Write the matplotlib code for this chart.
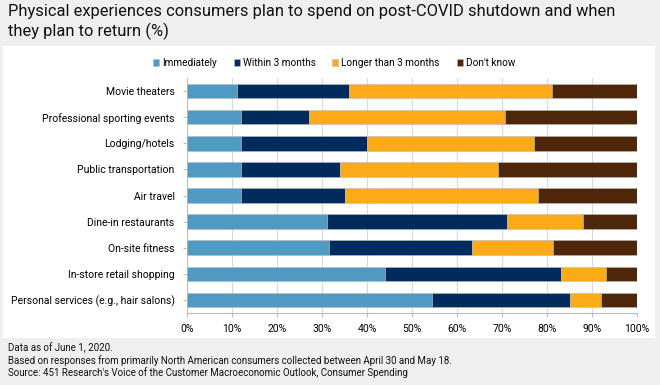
import matplotlib
matplotlib.use('Agg')
from matplotlib import pyplot as plt
from matplotlib.patches import Rectangle

plt.rcParams['font.family'] = ['Roboto', 'DejaVu Sans']

categories = ['Movie theaters', 'Professional sporting events', 'Lodging/hotels',
              'Public transportation', 'Air travel', 'Dine-in restaurants',
              'On-site fitness', 'In-store retail shopping',
              'Personal services (e.g., hair salons)']
immediately = [11, 12, 12, 12, 12, 31, 31.6, 44, 54.4]
within_3m = [25, 15, 28, 22, 23, 40, 31.7, 39, 30.7]
longer_3m = [45, 43.6, 37, 35, 43, 17, 18, 10, 7]
dont_know = [19, 29.4, 23, 31, 22, 12, 18.7, 7, 7.9]

series = [('Immediately', immediately, '#4F9AC3'),
          ('Within 3 months', within_3m, '#002B5C'),
          ('Longer than 3 months', longer_3m, '#FDAA19'),
          ("Don't know", dont_know, '#4E270B')]

fig = plt.figure(figsize=(6.6, 3.85), dpi=100)
fig.patch.set_facecolor('#EFEFEF')
fig.patches.append(Rectangle((3 / 660, 1 - 338 / 385), 652 / 660, 292 / 385,
                             transform=fig.transFigure, facecolor='white',
                             edgecolor='none', zorder=-5))

fig.text(8 / 660, 1 - 4 / 385,
         'Physical experiences consumers plan to spend on post-COVID shutdown and when\nthey plan to return (%)',
         fontsize=11.9, va='top', ha='left', linespacing=1.3, color='#111111')

ax = fig.add_axes([187 / 660, 1 - 313 / 385, 450 / 660, 235 / 385])
ax.set_facecolor('white')

left = [0] * len(categories)
for name, vals, color in series:
    ax.barh(categories, vals, left=left, height=0.56, color=color, label=name,
            edgecolor='#BBBBBB', linewidth=0.4, zorder=3)
    left = [a + b for a, b in zip(left, vals)]

ax.set_xlim(0, 100)
ax.set_ylim(8.5, -0.5)
ax.set_xticks(range(0, 101, 10))
ax.set_xticklabels([f'{t}%' for t in range(0, 101, 10)])
ax.grid(axis='x', color='#D9D9D9', linewidth=0.8, zorder=0)
for s in ['top', 'right']:
    ax.spines[s].set_visible(False)
ax.spines['left'].set_color('#BFBFBF')
ax.spines['bottom'].set_color('#BFBFBF')
ax.tick_params(axis='both', labelsize=7.5, color='#BFBFBF', length=3)
ax.tick_params(axis='x', pad=5)
ax.tick_params(axis='y', pad=6)

fig.legend(loc='center', bbox_to_anchor=(334 / 660, 1 - 63 / 385), ncol=4,
           frameon=False, fontsize=7.2, handlelength=0.6, handleheight=0.6,
           handletextpad=0.3, columnspacing=1.7)

footer = ['Data as of June 1, 2020.',
          'Based on responses from primarily North American consumers collected between April 30 and May 18.',
          "Source: 451 Research's Voice of the Customer Macroeconomic Outlook, Consumer Spending"]
for i, line in enumerate(footer):
    fig.text(8 / 660, 1 - (348 + i * 12.5) / 385, line, fontsize=7.0,
             va='center', ha='left', color='#111111')

fig.savefig('out.png', dpi=100, facecolor=fig.get_facecolor())
